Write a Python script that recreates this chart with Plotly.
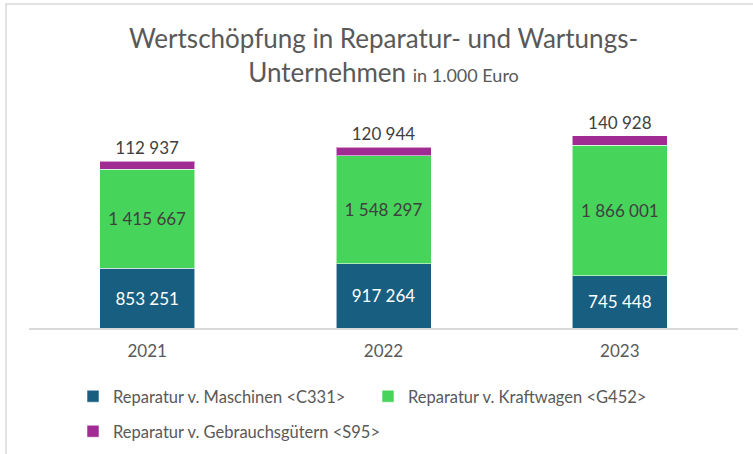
import plotly.graph_objects as go

years = ["2021", "2022", "2023"]
maschinen = [853251, 917264, 745448]
kraftwagen = [1415667, 1548297, 1866001]
gebrauchsgueter = [112937, 120944, 140928]

names = ["Reparatur v. Maschinen <C331>",
         "Reparatur v. Kraftwagen <G452>",
         "Reparatur v. Gebrauchsgütern <S95>"]
colors = ["#175E80", "#47D45A", "#A02B93"]

W, H = 753, 454
ML, MR, MT, MB = 29, 15, 100, 126
Y_MAX = 3.26e6
FONT = "Lato"


def fmt(v):
    return f"{v:,}".replace(",", "\u00a0")


fig = go.Figure()
series = [maschinen, kraftwagen, gebrauchsgueter]
tcolors = ["#FFFFFF", "#404040", "#404040"]
tpos = ["inside", "inside", "outside"]
legends = ["legend", "legend", "legend2"]
for vals, name, col, tc, tp, lg in zip(series, names, colors, tcolors, tpos, legends):
    fig.add_trace(go.Bar(
        x=years, y=vals, name=name,
        marker=dict(color=col, line=dict(color="rgba(255,255,255,0.55)", width=1)),
        text=[fmt(v) for v in vals], textposition=tp, insidetextanchor="middle",
        textangle=0, constraintext="none", cliponaxis=False,
        textfont=dict(family=FONT, size=17, color=tc),
        outsidetextfont=dict(family=FONT, size=17, color=tc),
        legend=lg, hoverinfo="skip",
    ))

pw = W - ML - MR
ph = H - MT - MB


def px_x(x):
    return (x - ML) / pw


def px_y(y):
    return (H - MB - y) / ph


fig.update_layout(
    width=W, height=H,
    margin=dict(l=ML, r=MR, t=MT, b=MB),
    barmode="stack", bargap=0.598,
    paper_bgcolor="white", plot_bgcolor="white",
    font=dict(family=FONT, color="#595959"),
    title=dict(
        text="Wertschöpfung in Reparatur- und Wartungs-<br>Unternehmen "
             "<span style='font-size:18px'>in 1.000 Euro</span>",
        x=0.5, xref="paper", xanchor="center",
        y=1 - 48 / H, yref="container", yanchor="top",
        font=dict(family=FONT, size=26, color="#595959"),
    ),
    xaxis=dict(showline=True, linecolor="#D9D9D9", linewidth=1.5,
               showgrid=False, ticks="", zeroline=False, ticklabelstandoff=7,
               tickfont=dict(family=FONT, size=17, color="#595959")),
    yaxis=dict(range=[0, Y_MAX], visible=False, showgrid=False),
    showlegend=True,
    legend=dict(orientation="h", x=px_x(73), xanchor="left", traceorder="normal",
                y=1 - 379 / H, yref="container", yanchor="top",
                entrywidth=250, entrywidthmode="pixels",
                font=dict(family=FONT, size=16.5, color="#595959"),
                bgcolor="rgba(0,0,0,0)"),
    legend2=dict(orientation="h", x=px_x(73), xanchor="left",
                 y=1 - 414 / H, yref="container", yanchor="top",
                 font=dict(family=FONT, size=16.5, color="#595959"),
                 bgcolor="rgba(0,0,0,0)"),
    shapes=[
        dict(type="line", xref="paper", yref="paper",
             x0=px_x(5), x1=px_x(W + 2), y0=px_y(4), y1=px_y(4),
             line=dict(color="#D9D9D9", width=1.5)),
        dict(type="line", xref="paper", yref="paper",
             x0=px_x(6), x1=px_x(6), y0=px_y(4), y1=px_y(H + 2),
             line=dict(color="#D9D9D9", width=1.5)),
    ],
)

fig.write_html("out.html",
               config={"displayModeBar": False},
               post_script="document.body.style.margin='0';"
                           "document.body.style.overflow='hidden';")
